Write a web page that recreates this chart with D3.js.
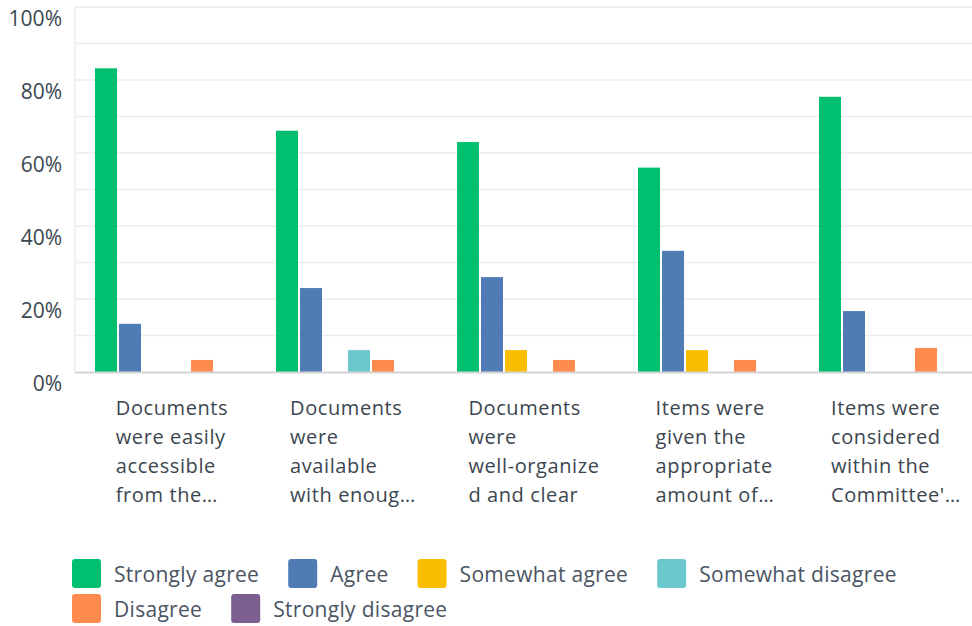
<!DOCTYPE html>
<html lang="en">
  <head>
    <meta charset="UTF-8" />
    <title>Survey responses</title>
    <script src="https://cdn.jsdelivr.net/npm/d3@7"></script>
    <style>
      body { margin: 0; background: #fff; }
      text { font-family: 'Open Sans', sans-serif; }
    </style>
  </head>
  <body>
    <div id='app'></div>

    <script>
  // data (percent of respondents)
  const categories = [
    ['Documents', 'were easily', 'accessible', 'from the…'],
    ['Documents', 'were', 'available', 'with enoug…'],
    ['Documents', 'were', 'well-organize', 'd and clear'],
    ['Items were', 'given the', 'appropriate', 'amount of…'],
    ['Items were', 'considered', 'within the', "Committee'…"]
  ]
  const series = ['Strongly agree', 'Agree', 'Somewhat agree', 'Somewhat disagree', 'Disagree', 'Strongly disagree']
  const colors = ['#00bf6f', '#507cb6', '#f9be00', '#6bc8cd', '#ff8b4f', '#7d5e90']

  const stronglyAgree    = [83.2, 66.1, 63.0, 56.0, 75.4]
  const agree            = [13.2, 23.0, 26.0, 33.2, 16.7]
  const somewhatAgree    = [0, 0, 6.0, 6.0, 0]
  const somewhatDisagree = [0, 6.0, 0, 0, 0]
  const disagree         = [3.3, 3.3, 3.3, 3.3, 6.6]
  const stronglyDisagree = [0, 0, 0, 0, 0]
  const values = [stronglyAgree, agree, somewhatAgree, somewhatDisagree, disagree, stronglyDisagree]

  const yTicks = [0, 20, 40, 60, 80, 100]
  const gridTicks = [0, 10, 20, 30, 40, 50, 60, 70, 80, 90, 100]

  const svgWidth = 972
  const svgHeight = 626
  const plotLeft = 75
  const plotTop = 7
  const plotBottom = 372

  const svg = d3.select('#app').append('svg')
    .attr('width', svgWidth)
    .attr('height', svgHeight)

  const y = d3.scaleLinear().domain([0, 100]).range([plotBottom, plotTop])
  const catIdx = d3.range(categories.length)
  const x0 = d3.scaleBand().domain(catIdx).range([76.5, 981.5])
  const x1 = d3.scaleBand().domain(series).range([18.5, 160.5]).paddingInner(1 / 12)

  // gridlines
  svg.append('g')
    .selectAll('line')
    .data(gridTicks.slice(1))
    .join('line')
      .attr('x1', plotLeft)
      .attr('x2', svgWidth)
      .attr('y1', d => y(d))
      .attr('y2', d => y(d))
      .attr('stroke', '#ededed')
      .attr('stroke-width', 1.5)

  // left axis line
  svg.append('line')
    .attr('x1', plotLeft).attr('x2', plotLeft)
    .attr('y1', plotTop).attr('y2', plotBottom)
    .attr('stroke', '#e2e2e2')
    .attr('stroke-width', 1)

  // tick labels
  svg.append('g')
    .selectAll('text')
    .data(yTicks)
    .join('text')
      .attr('x', 62)
      .attr('y', d => y(d) + 19)
      .attr('text-anchor', 'end')
      .attr('font-size', 21)
      .attr('fill', '#3b4650')
      .text(d => d + '%')

  // bars
  const rows = []
  values.forEach((arr, s) => arr.forEach((v, c) => rows.push({ s, c, v })))

  svg.append('g')
    .selectAll('rect')
    .data(rows.filter(d => d.v > 0))
    .join('rect')
      .attr('x', d => x0(d.c) + x1(series[d.s]))
      .attr('width', x1.bandwidth())
      .attr('y', d => y(d.v))
      .attr('height', d => y(0) - y(d.v))
      .attr('fill', d => colors[d.s])

  // baseline
  svg.append('line')
    .attr('x1', plotLeft).attr('x2', svgWidth)
    .attr('y1', plotBottom + 0.5).attr('y2', plotBottom + 0.5)
    .attr('stroke', '#d4d4d4')
    .attr('stroke-width', 2)

  // category labels, left aligned block centred on group
  const labels = svg.append('g')
    .selectAll('g')
    .data(catIdx)
    .join('g')

  labels.each(function (c) {
    const g = d3.select(this)
    const t = g.selectAll('text')
      .data(categories[c])
      .join('text')
        .attr('y', (d, i) => 415 + i * 29)
        .attr('font-size', 20)
        .attr('letter-spacing', 0.6)
        .attr('fill', '#3b4650')
        .text(d => d)
    const w = d3.max(t.nodes(), n => n.getComputedTextLength())
    const cx = x0(c) + x0.bandwidth() / 2
    t.attr('x', cx - w / 2 + 5)
  })

  // legend, flowing into rows
  const legend = svg.append('g')
  let lx = 72
  let ly = 559
  series.forEach((name, i) => {
    const item = legend.append('g')
    item.append('rect')
      .attr('width', 29).attr('height', 29)
      .attr('rx', 3)
      .attr('fill', colors[i])
    const txt = item.append('text')
      .attr('x', 42)
      .attr('y', 23)
      .attr('font-size', 21)
      .attr('letter-spacing', 0.3)
      .attr('fill', '#4a5563')
      .text(name)
    const w = 42 + txt.node().getComputedTextLength()
    if (lx + w > svgWidth - 10) {
      lx = 72
      ly += 35
    }
    item.attr('transform', `translate(${lx},${ly})`)
    lx += w + 29
  })
    </script>
  </body>
</html>
